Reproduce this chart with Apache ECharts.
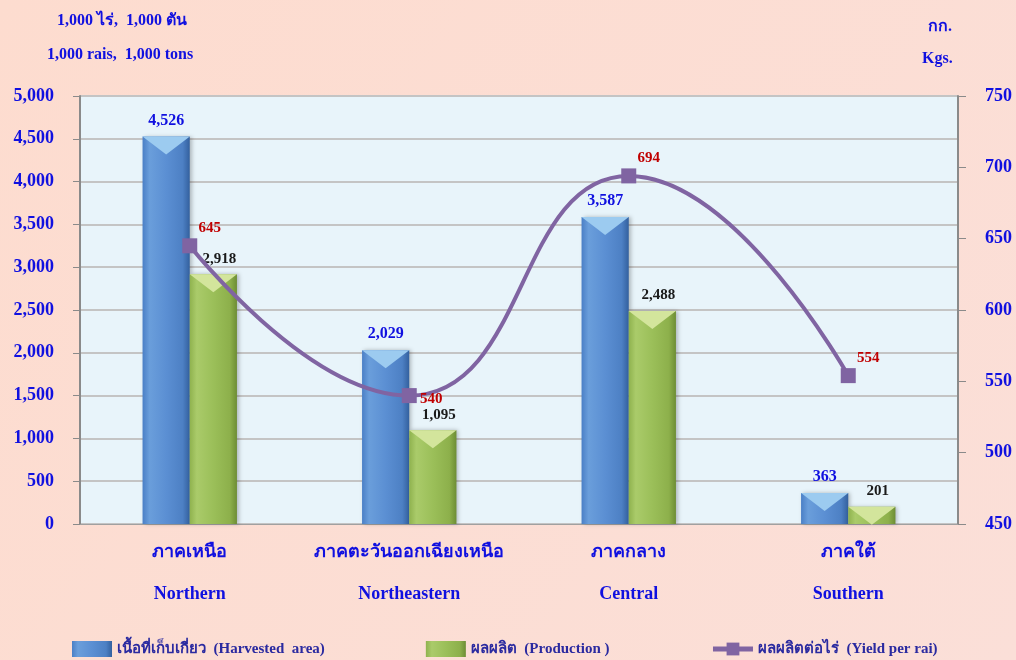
<!doctype html>
<html>
<head>
<meta charset="utf-8">
<title>rice by region</title>
<script src="https://cdn.jsdelivr.net/npm/echarts@6/dist/echarts.min.js"></script>
<style>
  html, body { margin: 0; padding: 0; }
  #chart { width: 1016px; height: 660px; }
</style>
</head>
<body>
<div id="chart"></div>
<script>
// data
var regionsTh = ['ภาคเหนือ', 'ภาคตะวันออกเฉียงเหนือ', 'ภาคกลาง', 'ภาคใต้'];
var regionsEn = ['Northern', 'Northeastern', 'Central', 'Southern'];
var harvested = [4526, 2029, 3587, 363];
var production = [2918, 1095, 2488, 201];
var yieldPerRai = [645, 540, 694, 554];
var seriesNames = ['เนื้อที่เก็บเกี่ยว  (Harvested  area)', 'ผลผลิต  (Production )', 'ผลผลิตต่อไร่  (Yield per rai)'];

var FONT = '"Liberation Serif", "DejaVu Serif", serif';
var BLUE = '#1010e0';

function fmt(v) { return v.toLocaleString('en-US'); }

var categories = regionsTh.map(function (t, i) { return t + '\n' + regionsEn[i]; });

// bevelled top of each bar
function capSeries(data, color) {
  return {
    type: 'pictorialBar', data: data, silent: true,
    barGap: '0%', barCategoryGap: '57%',
    symbol: 'path://M0,0 L10,0 L5,4 Z',
    symbolPosition: 'end', symbolSize: ['100%', 18], symbolOffset: [0, 0],
    itemStyle: { color: color },
    z: 3
  };
}

var myChart = echarts.init(document.getElementById('chart'));

var option = {
  backgroundColor: {
    type: 'linear', x: 0, y: 0, x2: 1, y2: 1,
    colorStops: [{ offset: 0, color: '#fddccf' }, { offset: 1, color: '#fbdfd8' }]
  },
  textStyle: { fontFamily: FONT },
  grid: {
    left: 80, right: 58, top: 96, bottom: 136,
    show: true, backgroundColor: '#e8f4fa', borderWidth: 0
  },
  graphic: [
    { type: 'text', left: 57, top: 13, style: { text: '1,000 ไร่,  1,000 ตัน', font: 'bold 16px ' + FONT, fill: BLUE } },
    { type: 'text', left: 47, top: 47, style: { text: '1,000 rais,  1,000 tons', font: 'bold 16px ' + FONT, fill: BLUE } },
    { type: 'text', left: 928, top: 19, style: { text: 'กก.', font: 'bold 16px ' + FONT, fill: BLUE } },
    { type: 'text', left: 922, top: 51, style: { text: 'Kgs.', font: 'bold 16px ' + FONT, fill: BLUE } }
  ],
  legend: {
    bottom: -2, left: 67, itemGap: 101,
    itemWidth: 40, itemHeight: 16,
    textStyle: { fontFamily: FONT, fontWeight: 'bold', fontSize: 15, color: '#2a2aa0' },
    data: [
      { name: seriesNames[0], icon: 'rect' },
      { name: seriesNames[1], icon: 'rect' },
      { name: seriesNames[2], lineStyle: { width: 5 } }
    ]
  },
  xAxis: {
    type: 'category',
    data: categories,
    axisLine: { lineStyle: { color: '#a0a0a0', width: 1 } },
    axisTick: { show: false },
    axisLabel: {
      interval: 0, margin: 7, lineHeight: 42,
      fontFamily: FONT, fontWeight: 'bold', fontSize: 18, color: BLUE
    }
  },
  yAxis: [
    {
      type: 'value', min: 0, max: 5000, interval: 500,
      axisLine: { show: true, lineStyle: { color: '#8a8a8a', width: 2 } },
      axisTick: { show: true, inside: false, length: 7, lineStyle: { color: '#8a8a8a' } },
      axisLabel: { margin: 26, fontFamily: FONT, fontWeight: 'bold', fontSize: 18, color: BLUE, formatter: fmt },
      splitLine: { lineStyle: { color: '#c4c4c4', width: 2 } }
    },
    {
      type: 'value', min: 450, max: 750, interval: 50, position: 'right',
      axisLine: { show: true, lineStyle: { color: '#8a8a8a', width: 2 } },
      axisTick: { show: true, inside: false, length: 8, lineStyle: { color: '#8a8a8a' } },
      axisLabel: { margin: 27, fontFamily: FONT, fontWeight: 'bold', fontSize: 18, color: BLUE },
      splitLine: { show: false }
    }
  ],
  series: [
    {
      name: seriesNames[0], type: 'bar', data: harvested,
      barGap: '0%', barCategoryGap: '57%',
      itemStyle: {
        color: {
          type: 'linear', x: 0, y: 0, x2: 1, y2: 0,
          colorStops: [
            { offset: 0, color: '#4a7fc6' }, { offset: 0.15, color: '#6a9edb' },
            { offset: 0.5, color: '#5b8fd3' }, { offset: 0.85, color: '#4d80c4' },
            { offset: 1, color: '#33609e' }
          ]
        },
        shadowColor: 'rgba(0,0,0,0.25)', shadowBlur: 4, shadowOffsetX: 2
      },
      label: {
        show: true, position: 'top', distance: 8, formatter: function (p) { return fmt(p.value); },
        fontFamily: FONT, fontWeight: 'bold', fontSize: 16, color: BLUE
      }
    },
    {
      name: seriesNames[1], type: 'bar', data: production,
      itemStyle: {
        color: {
          type: 'linear', x: 0, y: 0, x2: 1, y2: 0,
          colorStops: [
            { offset: 0, color: '#8fb24e' }, { offset: 0.15, color: '#aacb6a' },
            { offset: 0.5, color: '#9bbf59' }, { offset: 0.85, color: '#8db04b' },
            { offset: 1, color: '#6d8d34' }
          ]
        },
        shadowColor: 'rgba(0,0,0,0.25)', shadowBlur: 4, shadowOffsetX: 2
      },
      label: {
        show: true, position: 'top', distance: 8, offset: [6, 0],
        formatter: function (p) { return fmt(p.value); },
        fontFamily: FONT, fontWeight: 'bold', fontSize: 15, color: '#1a1a1a'
      }
    },
    capSeries(harvested, '#9ccbf0'),
    capSeries(production, '#d3e59c'),
    {
      name: seriesNames[2], type: 'line', yAxisIndex: 1, smooth: 0.5,
      data: yieldPerRai.map(function (v, i) {
        return i === 1 ? { value: v, label: { offset: [22, 25] } } : v;
      }),
      symbol: 'rect', symbolSize: 15,
      lineStyle: { color: '#8064a2', width: 4 },
      itemStyle: { color: '#8064a2' },
      label: {
        show: true, position: 'top', distance: 6, offset: [20, 3],
        fontFamily: FONT, fontWeight: 'bold', fontSize: 15, color: '#c00000'
      },
      z: 5
    }
  ]
};

myChart.setOption(option);
</script>
</body>
</html>
